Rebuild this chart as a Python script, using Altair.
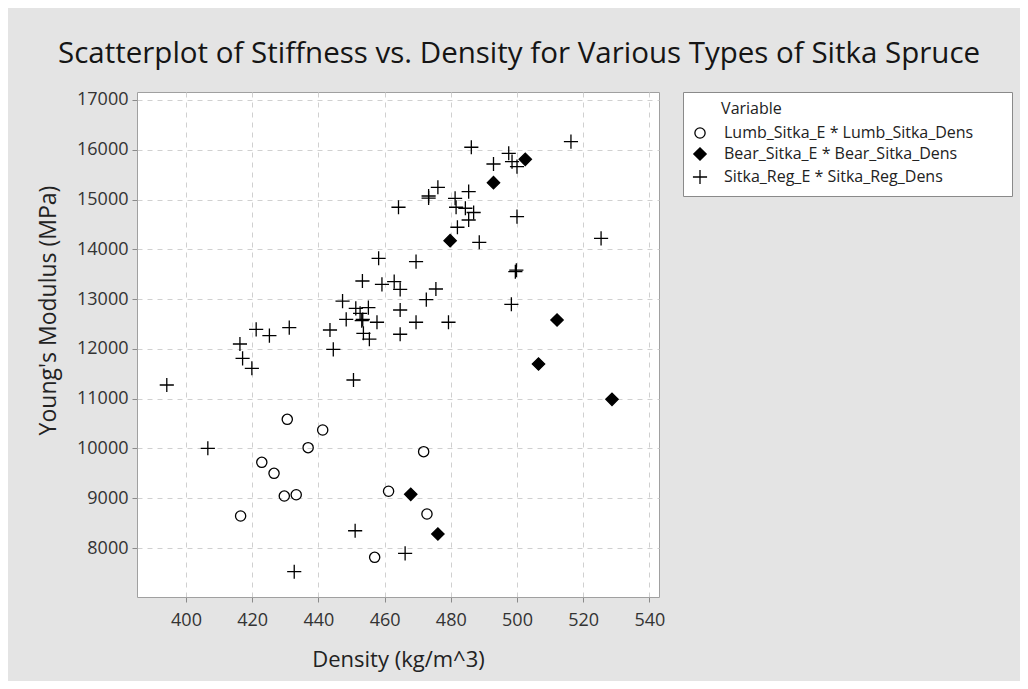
import altair as alt
import pandas as pd

# ---- data ----
series_names = [
    "Lumb_Sitka_E * Lumb_Sitka_Dens",
    "Bear_Sitka_E * Bear_Sitka_Dens",
    "Sitka_Reg_E * Sitka_Reg_Dens",
]

lumb_dens = [430.6, 441.3, 436.9, 422.9, 426.6, 429.7, 433.3, 416.5, 461.2, 457.0, 471.8, 472.8]
lumb_e = [10585, 10370, 10015, 9721, 9500, 9044, 9070, 8643, 9140, 7813, 9935, 8683]

bear_dens = [506.5, 528.7, 467.9, 476.1, 502.5, 492.9, 479.8, 512.1]
bear_e = [11696, 10987, 9079, 8281, 15808, 15339, 14173, 12580]

reg_dens = [394.2, 406.6, 416.3, 417.1, 419.9, 421.2, 425.2, 431.2, 432.7, 443.5,
            444.5, 447.3, 448.4, 450.6, 451.1, 451.3, 452.6, 453.1, 453.4, 453.3,
            453.6, 455.1, 455.4, 457.7, 458.2, 459.2, 462.9, 464.7, 464.7, 464.7,
            464.2, 466.2, 469.5, 469.5, 472.6, 473.3, 473.3, 475.5, 476.1, 479.3,
            481.3, 481.6, 482.0, 484.4, 485.4, 485.4, 486.2, 486.9, 488.6, 492.9,
            497.5, 498.5, 500.0, 498.3, 499.5, 499.8, 500.0, 516.3, 525.4]
reg_e = [11274, 10003, 12098, 11810, 11610, 12393, 12266, 12427, 7524, 12379,
         11990, 12960, 12594, 11375, 8347, 12815, 12715, 12568, 12590, 13364,
         12313, 12830, 12194, 12535, 13820, 13296, 13350, 13196, 12781, 12294,
         14845, 7893, 13752, 12535, 12990, 15071, 15030, 13203, 15246, 12535,
         15025, 14845, 14443, 14825, 15160, 14589, 16050, 14740, 14141, 15714,
         15929, 15762, 15662, 12896, 13550, 13580, 14656, 16162, 14221]

x_ticks = [400, 420, 440, 460, 480, 500, 520, 540]
y_ticks = [8000, 9000, 10000, 11000, 12000, 13000, 14000, 15000, 16000, 17000]

rows = []
for name, xs, ys in zip(series_names, [lumb_dens, bear_dens, reg_dens], [lumb_e, bear_e, reg_e]):
    for a, b in zip(xs, ys):
        rows.append({"Density": a, "E": b, "Variable": name})
df = pd.DataFrame(rows)

FONT = "Open Sans"
plus_path = "M-1,0L1,0M0,-1L0,1"
NB = "\u00a0"
ZW = "\u200b"

chart = alt.Chart(df).mark_point(
    stroke="black", strokeWidth=1.3, opacity=1, fillOpacity=1
).encode(
    x=alt.X("Density:Q",
            scale=alt.Scale(domain=[385.2, 542.9], nice=False, zero=False),
            axis=alt.Axis(title="Density (kg/m^3)", values=x_ticks, format="d",
                          labelPadding=9, titleBaseline="alphabetic", titleY=69)),
    y=alt.Y("E:Q",
            scale=alt.Scale(domain=[7016, 17160], nice=False, zero=False),
            axis=alt.Axis(title="Young's Modulus (MPa)", values=y_ticks, format="d",
                          labelPadding=4, titleX=-89, titleY=218, titleBaseline="middle",
                          titleFontSize=23)),
    shape=alt.Shape("Variable:N",
                    scale=alt.Scale(domain=series_names, range=["circle", "diamond", plus_path]),
                    legend=alt.Legend(
                        orient="none", legendX=546, legendY=0,
                        title=ZW + NB * 7 + "Variable",
                        titleFontSize=16, titleFontWeight="normal", titleColor="#222",
                        titlePadding=8, titleLimit=400,
                        labelFontSize=16, labelColor="#222", labelOffset=16,
                        labelLimit=500,
                        labelExpr="datum.label + '" + NB * 7 + ZW + "'",
                        padding=9, rowPadding=4,
                        strokeColor="#8a8a8a", fillColor="white",
                        symbolStrokeColor="black", symbolStrokeWidth=1.3,
                    )),
    fill=alt.Fill("Variable:N",
                  scale=alt.Scale(domain=series_names, range=["transparent", "black", "transparent"])),
    size=alt.Size("Variable:N",
                  scale=alt.Scale(domain=series_names, range=[105, 200, 144])),
).properties(
    width=522,
    height=505,
    autosize=alt.AutoSizeParams(type="none"),
    padding={"left": 129, "top": 84, "right": 361, "bottom": 84},
    background="#e4e4e4",
    title=alt.TitleParams(
        "Scatterplot of Stiffness vs. Density for Various Types of Sitka Spruce",
        anchor="start", frame="group", dx=-79, offset=21, fontSize=29.5,
        fontWeight="normal", font=FONT, color="#151515",
    ),
).configure_view(
    fill="white", stroke="#a0a0a0", strokeWidth=1
).configure_axis(
    labelFont=FONT, titleFont=FONT, labelFontSize=18, titleFontSize=22,
    titleFontWeight="normal", labelColor="#333", titleColor="#222",
    domain=False, tickSize=5, tickColor="#8a8a8a",
    grid=True, gridColor="#d0d0d0", gridDash=[5, 5], gridWidth=1,
).configure_legend(
    labelFont=FONT, titleFont=FONT
)

chart.save("out.html", embed_options={"renderer": "svg", "actions": False})
